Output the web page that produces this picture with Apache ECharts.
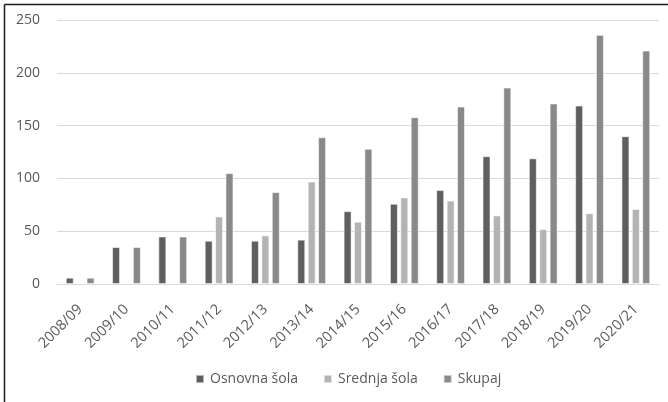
<!DOCTYPE html>
<html>
<head>
<meta charset="utf-8">
<script src="https://cdn.jsdelivr.net/npm/echarts@6/dist/echarts.min.js"></script>
<style>
  html, body { margin: 0; padding: 0; background: #ffffff; }
  #chart { width: 668px; height: 402px; }
</style>
</head>
<body>
<div id="chart"></div>
<script>
// School years on the category axis
const years = ['2008/09', '2009/10', '2010/11', '2011/12', '2012/13', '2013/14', '2014/15',
               '2015/16', '2016/17', '2017/18', '2018/19', '2019/20', '2020/21'];

// Counts per school level
const osnovnaSola = [6, 35, 45, 41, 41, 42, 69, 76, 89, 121, 119, 169, 140];
const srednjaSola = [null, null, null, 64, 46, 97, 59, 82, 79, 65, 52, 67, 71];
const skupaj      = [6, 35, 45, 105, 87, 139, 128, 158, 168, 186, 171, 236, 221];

const yTicks = { min: 0, max: 250, interval: 50 };

const textColor = '#595959';
const fontFamily = '"Open Sans", "Liberation Sans", sans-serif';

function barSeries(name, data, color) {
  return {
    name: name,
    type: 'bar',
    data: data,
    barWidth: 8,
    barGap: '30%',
    itemStyle: { color: color, borderColor: 'rgba(255,255,255,0.55)', borderWidth: 1 }
  };
}

const chart = echarts.init(document.getElementById('chart'), null, { renderer: 'canvas' });
chart.setOption({
  animation: false,
  backgroundColor: '#ffffff',
  textStyle: { fontFamily: fontFamily },
  grid: { left: 57, right: 9, top: 20, bottom: 118, containLabel: false },
  legend: {
    bottom: 11,
    left: 190,
    icon: 'rect',
    itemWidth: 8,
    itemHeight: 8,
    itemGap: 25,
    textStyle: { color: textColor, fontSize: 14, fontFamily: fontFamily, padding: [0, 0, 0, 1] },
    data: ['Osnovna šola', 'Srednja šola', 'Skupaj']
  },
  xAxis: {
    type: 'category',
    data: years,
    axisTick: { show: false },
    axisLine: { lineStyle: { color: '#d9d9d9', width: 1 } },
    axisLabel: { rotate: 45, color: textColor, fontSize: 14.5, margin: 23, interval: 0 }
  },
  yAxis: {
    type: 'value',
    min: yTicks.min,
    max: yTicks.max,
    interval: yTicks.interval,
    axisLine: { show: false },
    axisTick: { show: false },
    axisLabel: { color: textColor, fontSize: 14, margin: 17 },
    splitLine: { lineStyle: { color: '#d9d9d9', width: 1 } }
  },
  series: [
    barSeries('Osnovna šola', osnovnaSola, '#5f5f5f'),
    barSeries('Srednja šola', srednjaSola, '#b3b3b3'),
    barSeries('Skupaj', skupaj, '#898989')
  ],
  graphic: [
    { type: 'line', shape: { x1: 4.5, y1: 4.5, x2: 668, y2: 4.5 }, style: { stroke: '#1a1a1a', lineWidth: 1.5 } },
    { type: 'line', shape: { x1: 4.5, y1: 4.5, x2: 4.5, y2: 402 }, style: { stroke: '#1a1a1a', lineWidth: 1.5 } }
  ]
});
</script>
</body>
</html>
